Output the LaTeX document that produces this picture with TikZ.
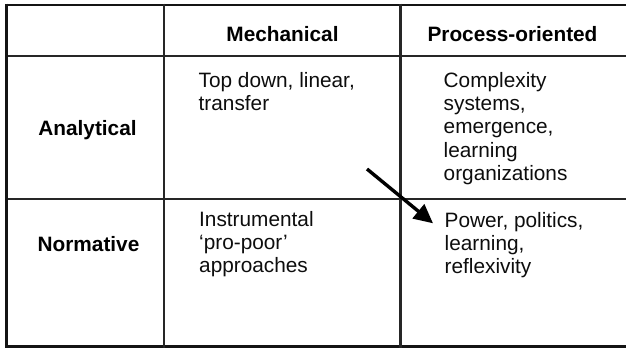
\documentclass[tikz,border=0pt]{standalone}
\usepackage{fontspec}
\setmainfont{Liberation Sans}
\usetikzlibrary{arrows.meta}
\newcommand\tablefont{\fontsize{20.8}{23.3}\selectfont}
\begin{document}
\begin{tikzpicture}[x=1pt,y=-1pt,
  innerrule/.style={draw=black!85, line width=2.3pt},
  outerrule/.style={draw=black!92, line width=2.8pt},
  head/.style={inner sep=0pt, anchor=base, font=\tablefont\bfseries, text=black},
  cell/.style={inner sep=0pt, anchor=base west, font=\tablefont, text=black!95},
  shiftarrow/.style={draw=black, line width=3.4pt, -{Triangle[length=19pt,width=18pt]}}]
  \useasboundingbox (0,0) rectangle (627,348);
  % horizontal rules
  \draw[outerrule] (5,5) -- (626,5);
  \draw[innerrule] (5,56) -- (626,56);
  \draw[innerrule] (5,199) -- (626,199);
  \draw[outerrule] (5,346.8) -- (626,346.8);
  % vertical rules
  \draw[outerrule] (6.6,3.6) -- (6.6,348);
  \draw[innerrule] (164.3,3.6) -- (164.3,348);
  \draw[innerrule] (400.6,3.6) -- (400.6,348);
  % column and row headings
  \node[head] (mech) at (282.5,41) {Mechanical};
  \node[head] (proc) at (512.5,41) {Process-oriented};
  \node[head] (anal) at (87.5,135) {Analytical};
  \node[head] (norm) at (88.5,251) {Normative};
  % cell contents
  \node[cell] (topdown) at (198.5,87.3) {\parbox[t]{200pt}{\raggedright Top down, linear,\\transfer}};
  \node[cell] (instr) at (199,226) {\parbox[t]{200pt}{\raggedright Instrumental\\‘pro-poor’\\approaches}};
  \node[cell] (complex) at (443.5,87.3) {\parbox[t]{180pt}{\raggedright Complexity\\systems,\\emergence,\\learning\\organizations}};
  \node[cell] (power) at (444.5,227) {\parbox[t]{180pt}{\raggedright Power, politics,\\learning,\\reflexivity}};
  % shift from analytical to normative process view
  \coordinate (shiftfrom) at (367,169);
  \coordinate (shiftto) at (433,223.3);
  \draw[shiftarrow] (shiftfrom) -- (shiftto);
\end{tikzpicture}
\end{document}
